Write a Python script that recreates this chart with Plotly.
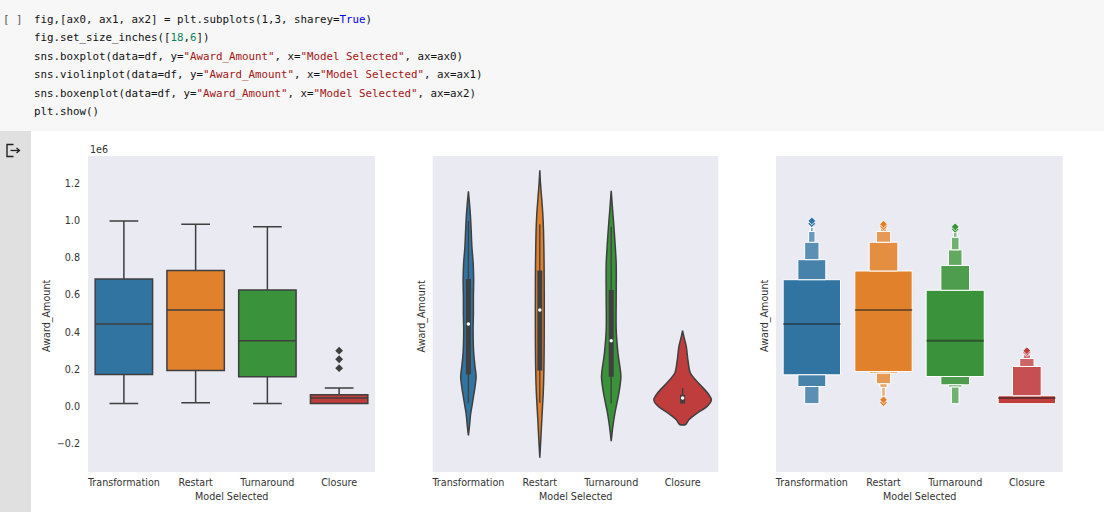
import plotly.graph_objects as go

# ---------------- data (Award_Amount in units of 1e6) ----------------
categories = ["Transformation", "Restart", "Turnaround", "Closure"]

# box plot statistics
box_q1 = [0.172, 0.193, 0.159, 0.015]
box_median = [0.444, 0.519, 0.354, 0.045]
box_q3 = [0.687, 0.732, 0.628, 0.063]
box_low = [0.015, 0.020, 0.015, 0.015]
box_high = [1.000, 0.982, 0.968, 0.099]
closure_outliers = [0.206, 0.254, 0.300]

# violin outlines: y level and half-width (category units)
violin_y_transformation = [1.159, 1.10, 1.03, 0.95, 0.86, 0.77, 0.68, 0.59, 0.50, 0.41, 0.29, 0.22, 0.16, 0.10, 0.05, 0.00, -0.04, -0.11, -0.157]
violin_w_transformation = [0.0, 0.014, 0.028, 0.039, 0.049, 0.067, 0.074, 0.070, 0.070, 0.066, 0.074, 0.091, 0.108, 0.091, 0.070, 0.049, 0.032, 0.014, 0.0]
violin_y_restart = [1.273, 1.20, 1.127, 1.037, 0.948, 0.769, 0.60, 0.40, 0.233, 0.12, 0.054, -0.071, -0.178, -0.277]
violin_w_restart = [0.0, 0.010, 0.025, 0.042, 0.052, 0.060, 0.062, 0.062, 0.059, 0.053, 0.046, 0.028, 0.014, 0.0]
violin_y_turnaround = [1.163, 1.073, 0.948, 0.769, 0.59, 0.411, 0.286, 0.161, 0.072, -0.036, -0.107, -0.188]
violin_w_turnaround = [0.0, 0.017, 0.042, 0.070, 0.070, 0.070, 0.095, 0.136, 0.108, 0.052, 0.024, 0.0]
violin_y_closure = [0.408, 0.376, 0.322, 0.251, 0.18, 0.126, 0.072, 0.036, 0.0, -0.036, -0.072, -0.098]
violin_w_closure = [0.0, 0.018, 0.052, 0.074, 0.109, 0.221, 0.350, 0.403, 0.343, 0.203, 0.088, 0.042]

# boxen plot boxes: bottom, top, width, level
boxen_bottom_transformation = [0.170, 0.683, 0.791, 0.885, 0.943, 0.107, 0.0145]
boxen_top_transformation = [0.683, 0.791, 0.885, 0.943, 0.965, 0.170, 0.107]
boxen_width_transformation = [0.80, 0.39, 0.20, 0.09, 0.04, 0.39, 0.20]
boxen_level_transformation = [0, 1, 2, 3, 4, 1, 2]

boxen_bottom_restart = [0.188, 0.730, 0.885, 0.943, 0.179, 0.122, 0.102, 0.054]
boxen_top_restart = [0.730, 0.885, 0.943, 0.962, 0.188, 0.179, 0.122, 0.102]
boxen_width_restart = [0.80, 0.40, 0.20, 0.09, 0.40, 0.20, 0.10, 0.05]
boxen_level_restart = [0, 1, 2, 3, 1, 2, 3, 4]

boxen_bottom_turnaround = [0.161, 0.626, 0.760, 0.844, 0.912, 0.116, 0.104, 0.0145]
boxen_top_turnaround = [0.626, 0.760, 0.844, 0.912, 0.940, 0.161, 0.116, 0.104]
boxen_width_turnaround = [0.81, 0.40, 0.19, 0.107, 0.05, 0.40, 0.19, 0.107]
boxen_level_turnaround = [0, 1, 2, 3, 4, 1, 2, 3]

boxen_bottom_closure = [0.0145, 0.057, 0.215, 0.258]
boxen_top_closure = [0.057, 0.215, 0.258, 0.278]
boxen_width_closure = [0.80, 0.40, 0.20, 0.10]
boxen_level_closure = [0, 1, 2, 3]

boxen_outliers = [[0.985, 1.000], [0.968, 0.982, 0.020, 0.035], [0.955, 0.968], [0.290, 0.300]]

y_ticks = [-0.2, 0.0, 0.2, 0.4, 0.6, 0.8, 1.0, 1.2]
y_tick_text = ["\u22120.2", "0.0", "0.2", "0.4", "0.6", "0.8", "1.0", "1.2"]

# ---------------- styles ----------------
W, H = 1104, 512
colors = ["#3274a1", "#e1812c", "#3a923a", "#c03d3e"]
edge = "#3f3f3f"
panel_bg = "#eaeaf2"
text_col = "#333333"
font_main = "DejaVu Sans"
level_mix = [0.0, 0.10, 0.20, 0.28, 0.36]


def px_x(p):
    return p / W


def px_y(p):
    return 1 - p / H


def lighten(hexc, f):
    r, g, b = int(hexc[1:3], 16), int(hexc[3:5], 16), int(hexc[5:7], 16)
    r, g, b = [int(round(c + (255 - c) * f)) for c in (r, g, b)]
    return "#%02x%02x%02x" % (r, g, b)


fig = go.Figure()

# ---------------- panel 1: box plot ----------------
for i, c in enumerate(categories):
    fig.add_trace(go.Box(
        x=[i], q1=[box_q1[i]], median=[box_median[i]], q3=[box_q3[i]],
        lowerfence=[box_low[i]], upperfence=[box_high[i]],
        width=0.8, whiskerwidth=0.5, fillcolor=colors[i],
        line=dict(color=edge, width=1.5), boxpoints=False,
        name=c, showlegend=False, xaxis="x", yaxis="y"))
fig.add_trace(go.Scatter(
    x=[3] * len(closure_outliers), y=closure_outliers, mode="markers",
    marker=dict(symbol="diamond", color=edge, size=6),
    showlegend=False, xaxis="x", yaxis="y"))

# ---------------- panel 2: violin plot ----------------
violins = [
    (violin_y_transformation, violin_w_transformation),
    (violin_y_restart, violin_w_restart),
    (violin_y_turnaround, violin_w_turnaround),
    (violin_y_closure, violin_w_closure),
]
for i, (vy, vw) in enumerate(violins):
    xs = [i + w for w in vw] + [i - w for w in reversed(vw)]
    ys = list(vy) + list(reversed(vy))
    xs.append(xs[0])
    ys.append(ys[0])
    fig.add_trace(go.Scatter(
        x=xs, y=ys, mode="lines", fill="toself", fillcolor=colors[i],
        line=dict(color=edge, width=1.5, shape="spline", smoothing=0.8),
        showlegend=False, hoverinfo="skip", xaxis="x2", yaxis="y2"))
    fig.add_trace(go.Scatter(
        x=[i, i], y=[box_low[i], box_high[i]], mode="lines",
        line=dict(color=edge, width=1.3), showlegend=False,
        hoverinfo="skip", xaxis="x2", yaxis="y2"))
    fig.add_trace(go.Scatter(
        x=[i, i], y=[box_q1[i], box_q3[i]], mode="lines",
        line=dict(color=edge, width=5), showlegend=False,
        hoverinfo="skip", xaxis="x2", yaxis="y2"))
    fig.add_trace(go.Scatter(
        x=[i], y=[box_median[i]], mode="markers",
        marker=dict(color="white", size=3.5), showlegend=False,
        xaxis="x2", yaxis="y2"))

# ---------------- panel 3: boxen plot ----------------
boxens = [
    (boxen_bottom_transformation, boxen_top_transformation, boxen_width_transformation, boxen_level_transformation),
    (boxen_bottom_restart, boxen_top_restart, boxen_width_restart, boxen_level_restart),
    (boxen_bottom_turnaround, boxen_top_turnaround, boxen_width_turnaround, boxen_level_turnaround),
    (boxen_bottom_closure, boxen_top_closure, boxen_width_closure, boxen_level_closure),
]
for i, (bb, bt, bw, bl) in enumerate(boxens):
    fig.add_trace(go.Bar(
        x=[i] * len(bb), base=bb, y=[t - b for b, t in zip(bb, bt)], width=bw,
        marker=dict(color=[lighten(colors[i], level_mix[l]) for l in bl],
                    line=dict(color="white", width=1)),
        showlegend=False, xaxis="x3", yaxis="y3"))
    fig.add_trace(go.Scatter(
        x=[i - 0.4, i + 0.4], y=[box_median[i], box_median[i]], mode="lines",
        line=dict(color="rgba(35,35,35,0.55)", width=2), showlegend=False,
        hoverinfo="skip", xaxis="x3", yaxis="y3"))
    fig.add_trace(go.Scatter(
        x=[i] * len(boxen_outliers[i]), y=boxen_outliers[i], mode="markers",
        marker=dict(symbol="diamond", color=colors[i], size=6,
                    line=dict(color="white", width=0.8)),
        showlegend=False, xaxis="x3", yaxis="y3"))

# ---------------- axes ----------------
y_dom = [px_y(472), px_y(156)]
x_doms = [[px_x(88), px_x(375)], [px_x(432.7), px_x(718.3)], [px_x(776), px_x(1062.7)]]
tickfont = dict(family=font_main, size=9.6, color=text_col)
layout_axes = {}
for k in range(3):
    sx = "" if k == 0 else str(k + 1)
    layout_axes["xaxis" + sx] = dict(
        domain=x_doms[k], range=[-0.5, 3.5], tickvals=[0, 1, 2, 3],
        ticktext=categories, showgrid=False, zeroline=False, showline=False,
        ticks="", tickfont=tickfont, anchor="y" + sx, fixedrange=True,
        ticklabelstandoff=3)
    layout_axes["yaxis" + sx] = dict(
        domain=y_dom, range=[-0.354, 1.350], tickvals=y_ticks,
        ticktext=y_tick_text, showticklabels=(k == 0), showgrid=False,
        zeroline=False, showline=False, ticks="", tickfont=tickfont,
        anchor="x" + sx, fixedrange=True, ticklabelstandoff=7)

# ---------------- notebook chrome ----------------
shapes = [
    dict(type="rect", xref="paper", yref="paper", x0=0, x1=1, y0=px_y(131), y1=1,
         fillcolor="#f7f7f7", line=dict(width=0), layer="below"),
    dict(type="rect", xref="paper", yref="paper", x0=0, x1=px_x(31), y0=0, y1=px_y(131),
         fillcolor="#e0e0e0", line=dict(width=0), layer="below"),
]
for k in range(3):
    shapes.append(dict(type="rect", xref="paper", yref="paper",
                       x0=x_doms[k][0], x1=x_doms[k][1], y0=y_dom[0], y1=y_dom[1],
                       fillcolor=panel_bg, line=dict(width=0), layer="below"))
# output icon
icon_path = "M {a} {b} L {c} {b} L {c} {d} L {a} {d}".format(
    a=px_x(13.5), b=px_y(144.5), c=px_x(7), d=px_y(156.5))
shapes.append(dict(type="path", xref="paper", yref="paper", path=icon_path,
                   line=dict(color="#222222", width=1.4)))
shapes.append(dict(type="line", xref="paper", yref="paper", x0=px_x(10.5), x1=px_x(19),
                   y0=px_y(150.5), y1=px_y(150.5), line=dict(color="#222222", width=1.3)))
shapes.append(dict(type="path", xref="paper", yref="paper",
                   path="M {a} {b} L {c} {d} L {a} {e}".format(
                       a=px_x(16.5), b=px_y(148), c=px_x(19.5), d=px_y(150.5), e=px_y(153)),
                   line=dict(color="#222222", width=1.3)))

S = '<span style="color:#a31515">'
G = '<span style="color:#098658">'
B = '<span style="color:#0000ff">'
E = '</span>'
code_lines = [
    'fig,[ax0, ax1, ax2] = plt.subplots(1,3, sharey=' + B + 'True' + E + ')',
    'fig.set_size_inches([' + G + '18' + E + ',' + G + '6' + E + '])',
    'sns.boxplot(data=df, y=' + S + '"Award_Amount"' + E + ', x=' + S + '"Model Selected"' + E + ', ax=ax0)',
    'sns.violinplot(data=df, y=' + S + '"Award_Amount"' + E + ', x=' + S + '"Model Selected"' + E + ', ax=ax1)',
    'sns.boxenplot(data=df, y=' + S + '"Award_Amount"' + E + ', x=' + S + '"Model Selected"' + E + ', ax=ax2)',
    'plt.show()',
]
code_y = [19.3, 37.7, 56.2, 74.7, 93.2, 111.7]
mono = dict(family="DejaVu Sans Mono", size=10.8, color="#111111")

annotations = []
annotations.append(dict(text="[ ]", x=px_x(1), y=px_y(19.3), xref="paper", yref="paper",
                        xanchor="left", yanchor="middle", showarrow=False,
                        font=dict(family="DejaVu Sans Mono", size=10.8, color="#555555")))
for line, yy in zip(code_lines, code_y):
    annotations.append(dict(text=line, x=px_x(32), y=px_y(yy), xref="paper", yref="paper",
                            xanchor="left", yanchor="middle", showarrow=False, font=mono))

annotations.append(dict(text="1e6", x=px_x(88), y=px_y(149), xref="paper", yref="paper",
                        xanchor="left", yanchor="middle", showarrow=False, font=tickfont))
ylab_x = [47, 421.5, 765]
for k in range(3):
    annotations.append(dict(text="Award_Amount", x=px_x(ylab_x[k]), y=px_y(316),
                            xref="paper", yref="paper", xanchor="center", yanchor="middle",
                            textangle=-90, showarrow=False, font=tickfont))
    annotations.append(dict(text="Model Selected", x=(x_doms[k][0] + x_doms[k][1]) / 2,
                            y=px_y(496.5), xref="paper", yref="paper", xanchor="center",
                            yanchor="middle", showarrow=False, font=tickfont))

fig.update_layout(
    width=W, height=H, autosize=False,
    margin=dict(l=0, r=0, t=0, b=0, pad=0),
    paper_bgcolor="white", plot_bgcolor="rgba(0,0,0,0)",
    barmode="overlay", boxmode="overlay", showlegend=False,
    shapes=shapes, annotations=annotations,
    font=dict(family=font_main, color=text_col),
    **layout_axes,
)

fig.write_html("out.html", config={"displayModeBar": False},
               post_script="document.body.style.margin='0';document.body.style.overflow='hidden';")
